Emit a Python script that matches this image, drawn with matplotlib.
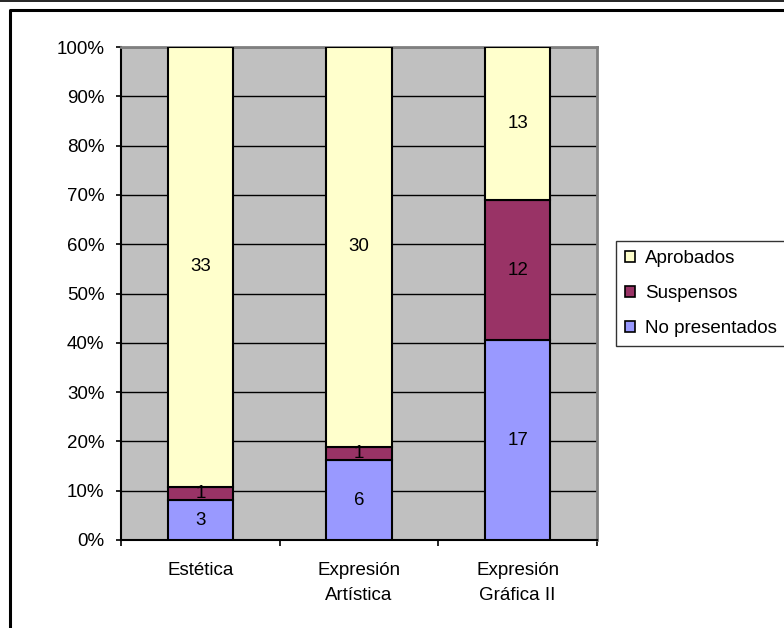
import matplotlib
matplotlib.use("Agg")
import matplotlib.pyplot as plt
from matplotlib.lines import Line2D
from matplotlib.patches import Patch
from matplotlib.ticker import PercentFormatter, FixedLocator
import numpy as np

plt.rcParams['font.family'] = ['Liberation Sans', 'DejaVu Sans']
plt.rcParams['font.size'] = 13.5

# data
asignaturas = ['Estética', 'Expresión\nArtística', 'Expresión\nGráfica II']
no_presentados = [3, 6, 17]
suspensos = [1, 1, 12]
aprobados = [33, 30, 13]

series = [
    ('No presentados', no_presentados, '#9999FF'),
    ('Suspensos', suspensos, '#993366'),
    ('Aprobados', aprobados, '#FFFFCC'),
]

totals = np.array(no_presentados) + np.array(suspensos) + np.array(aprobados)

fig = plt.figure(figsize=(7.84, 6.28), dpi=100)
ax = fig.add_axes([121 / 784, 1 - 540 / 628, 476 / 784, 493 / 628])
ax.set_facecolor('#C0C0C0')

x = np.arange(len(asignaturas))
bottom = np.zeros(len(asignaturas))
handles = {}
for name, vals, color in series:
    frac = np.array(vals) / totals
    bars = ax.bar(x, frac, 0.41, bottom=bottom, color=color,
                  edgecolor='black', linewidth=1.5, zorder=3)
    ax.bar_label(bars, labels=[str(v) for v in vals], label_type='center',
                 fontsize=13.5, zorder=4)
    bottom += frac
    handles[name] = Patch(facecolor=color, edgecolor='black', linewidth=1.2)

ax.set_xlim(-0.5, len(asignaturas) - 0.5)
ax.set_ylim(0, 1)
ax.yaxis.set_major_locator(FixedLocator(np.linspace(0, 1, 11)))
ax.yaxis.set_major_formatter(PercentFormatter(1.0, decimals=0))
ax.grid(axis='y', color='black', linewidth=1.0, zorder=1)
ax.set_axisbelow(True)

ax.set_xticks(x)
ax.set_xticklabels(asignaturas, linespacing=1.65)
ax.set_xticks(np.arange(-0.5, len(asignaturas)), minor=True)
ax.tick_params(axis='x', which='major', length=0, pad=15.5)
ax.tick_params(axis='x', which='minor', length=4.3, width=1.2, direction='out')
ax.tick_params(axis='y', length=3.8, width=1.2, pad=8)

for s in ['left', 'bottom']:
    ax.spines[s].set_color('black')
    ax.spines[s].set_linewidth(1.5)
for s in ['top', 'right']:
    ax.spines[s].set_color('#808080')
    ax.spines[s].set_linewidth(2)

order = ['Aprobados', 'Suspensos', 'No presentados']
leg = fig.legend([handles[n] for n in order], order,
                 loc='upper left', bbox_to_anchor=(616 / 784, 1 - 241 / 628),
                 frameon=True, fancybox=False, edgecolor='black',
                 handlelength=0.5, handleheight=0.5, handletextpad=0.55,
                 labelspacing=0.95, borderpad=0.5, borderaxespad=0, fontsize=13.5)
leg.get_frame().set_linewidth(1.0)

# outer frame of the chart object
fig.add_artist(Line2D([0, 1], [1 - 0.5 / 628, 1 - 0.5 / 628], color='black', linewidth=1.2))
fig.add_artist(Line2D([10 / 784, 10 / 784, 1], [0, 1 - 10 / 628, 1 - 10 / 628],
                      color='black', linewidth=2.2))

fig.savefig('out.png', dpi=100)
